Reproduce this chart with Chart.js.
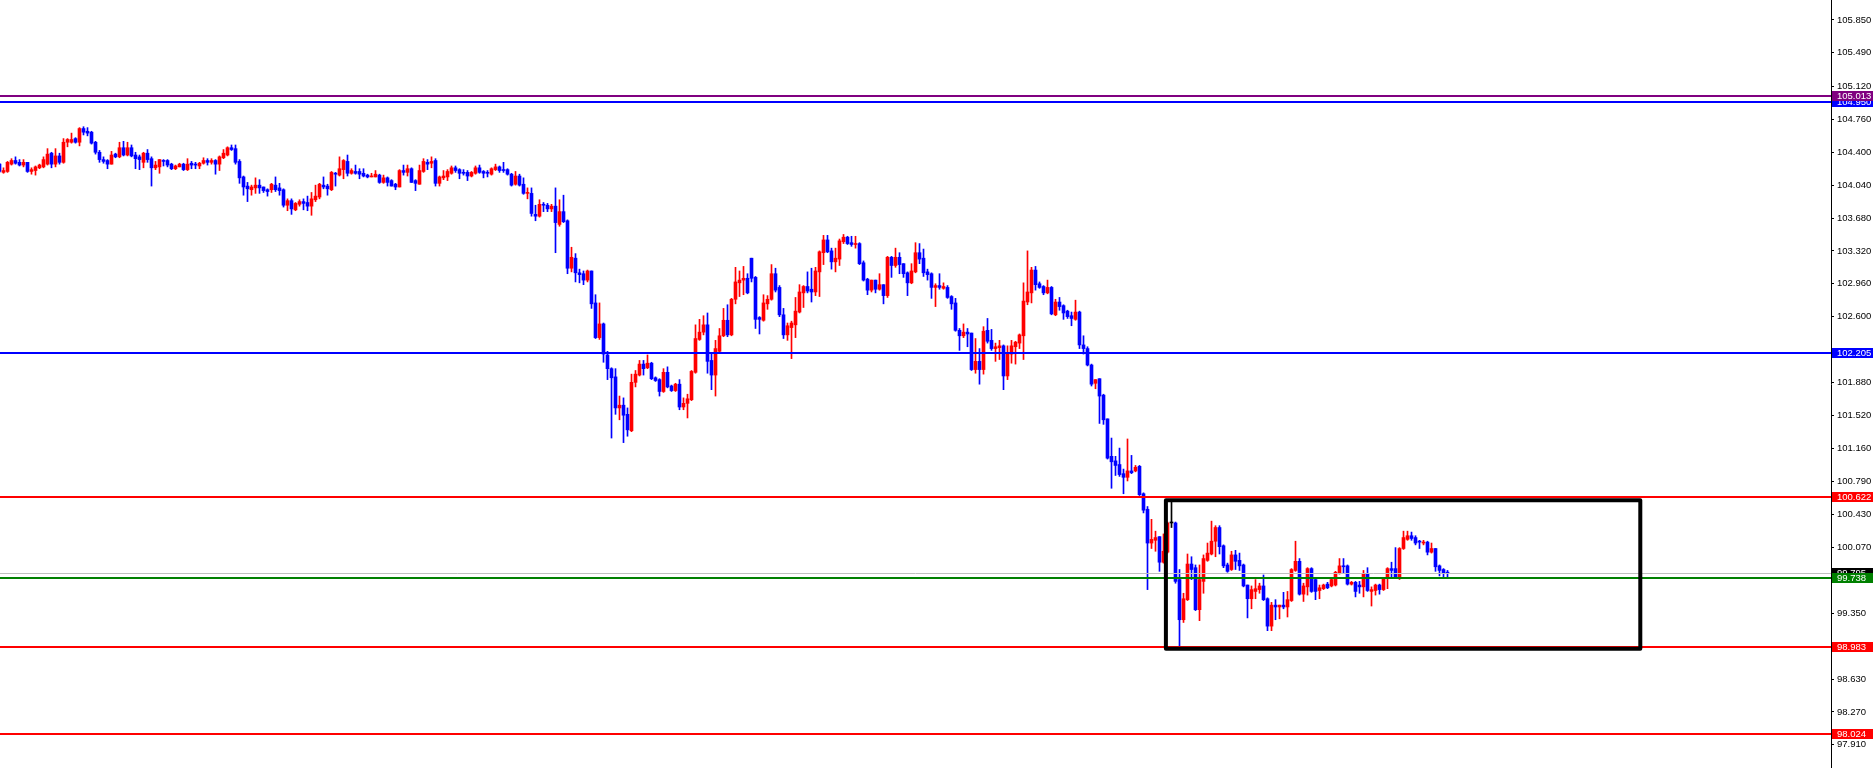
<!DOCTYPE html>
<html>
<head>
<meta charset="utf-8">
<script src="https://cdn.jsdelivr.net/npm/chart.js@4.4.1/dist/chart.umd.min.js"></script>
<style>
  html, body { margin: 0; padding: 0; background: #fff; overflow: hidden; }
  canvas { display: block; }
</style>
</head>
<body>
<canvas id="chart" width="1873" height="768"></canvas>
<script>
// OHLC of each bar, left to right
const opens = [
  104.27,104.18,104.19,104.27,104.31,104.29,104.26,104.29,104.19,104.20,
  104.23,104.24,104.27,104.39,104.27,104.36,104.29,104.51,104.51,104.55,
  104.51,104.66,104.63,104.62,104.51,104.40,104.32,104.31,104.27,104.38,
  104.35,104.45,104.37,104.45,104.37,104.35,104.29,104.39,104.33,104.23,
  104.24,104.31,104.31,104.27,104.22,104.24,104.27,104.21,104.28,104.27,
  104.25,104.28,104.31,104.29,104.31,104.27,104.34,104.37,104.45,104.44,
  104.30,104.13,104.03,103.99,104.01,104.04,104.02,103.99,103.99,104.04,
  104.01,103.99,103.82,103.87,103.77,103.83,103.86,103.85,103.81,103.88,
  103.91,104.04,104.03,103.99,104.17,104.15,104.21,104.30,104.17,104.19,
  104.19,104.17,104.15,104.13,104.13,104.15,104.07,104.12,104.09,104.05,
  104.02,104.20,104.18,104.22,104.09,104.05,104.19,104.29,104.28,104.31,
  104.06,104.12,104.13,104.17,104.23,104.21,104.18,104.18,104.14,104.17,
  104.23,104.19,104.18,104.16,104.21,104.24,104.21,104.21,104.16,104.05,
  104.14,104.05,103.95,103.95,103.72,103.70,103.83,103.82,103.78,103.81,
  103.61,103.75,103.65,103.13,103.24,103.08,103.07,103.00,103.10,102.75,
  102.37,102.52,102.18,102.03,101.94,101.60,101.63,101.53,101.35,101.88,
  101.96,102.08,102.04,102.09,101.93,101.91,101.78,101.99,101.84,101.79,
  101.86,101.61,101.65,101.69,101.99,102.35,102.43,102.51,102.12,101.96,
  102.22,102.39,102.56,102.40,102.79,102.97,103.00,103.02,103.24,103.03,
  102.59,102.56,102.74,102.79,103.07,102.92,102.62,102.40,102.48,102.51,
  102.65,102.86,102.93,102.90,102.87,103.09,103.30,103.44,103.32,103.20,
  103.23,103.42,103.47,103.41,103.39,103.40,103.19,103.01,102.89,103.00,
  102.90,102.95,102.83,103.25,103.16,103.25,103.18,103.08,102.97,103.09,
  103.30,103.24,103.09,103.07,102.92,102.94,102.91,102.92,102.82,102.75,
  102.45,102.39,102.43,102.42,102.02,102.11,102.02,102.45,102.34,102.25,
  102.26,102.28,101.95,102.19,102.27,102.31,102.39,102.76,102.86,103.11,
  102.96,102.93,102.86,102.92,102.62,102.76,102.72,102.66,102.61,102.57,
  102.65,102.29,102.25,102.07,101.87,101.92,101.74,101.48,101.07,101.02,
  100.98,100.88,100.84,100.91,100.91,100.96,100.66,100.49,100.12,100.15,
  100.19,99.91,100.02,100.34,100.34,99.72,99.28,99.50,99.89,99.85,
  99.39,99.70,99.93,100.00,100.14,100.29,100.09,99.88,99.83,99.99,
  99.93,99.88,99.66,99.51,99.59,99.61,99.65,99.51,99.21,99.44,
  99.42,99.44,99.42,99.49,99.82,99.92,99.56,99.64,99.84,99.72,
  99.60,99.62,99.67,99.65,99.66,99.79,99.87,99.87,99.67,99.69,
  99.66,99.64,99.78,99.59,99.60,99.66,99.61,99.73,99.84,99.84,
  99.73,100.06,100.16,100.20,100.18,100.14,100.12,100.13,100.02,100.06,
  99.87,99.83,99.80
];
const highs = [
  104.28,104.23,104.30,104.33,104.35,104.32,104.32,104.29,104.23,104.25,
  104.27,104.35,104.44,104.40,104.44,104.39,104.55,104.55,104.61,104.56,
  104.67,104.68,104.67,104.63,104.52,104.42,104.35,104.32,104.41,104.39,
  104.51,104.52,104.51,104.48,104.40,104.37,104.40,104.43,104.35,104.30,
  104.32,104.32,104.32,104.28,104.26,104.28,104.28,104.33,104.30,104.29,
  104.29,104.34,104.33,104.33,104.32,104.36,104.43,104.46,104.48,104.48,
  104.32,104.14,104.07,104.04,104.12,104.10,104.02,104.00,104.06,104.13,
  104.06,104.00,103.89,103.89,103.85,103.88,103.89,103.92,103.96,104.04,
  104.06,104.13,104.05,104.19,104.18,104.35,104.32,104.37,104.22,104.26,
  104.22,104.22,104.16,104.17,104.20,104.16,104.15,104.13,104.10,104.06,
  104.21,104.26,104.26,104.23,104.10,104.26,104.33,104.32,104.35,104.33,
  104.14,104.20,104.21,104.25,104.25,104.22,104.21,104.20,104.19,104.25,
  104.26,104.20,104.20,104.23,104.27,104.25,104.29,104.22,104.17,104.19,
  104.16,104.12,104.01,104.01,103.82,103.88,103.85,103.84,103.83,104.01,
  103.88,103.93,103.66,103.36,103.29,103.12,103.10,103.11,103.10,102.84,
  102.75,102.53,102.22,102.04,102.03,101.73,101.71,101.60,101.97,102.01,
  102.12,102.12,102.18,102.10,101.94,101.92,102.03,102.05,101.85,101.87,
  101.91,101.71,101.75,102.01,102.51,102.57,102.61,102.64,102.19,102.34,
  102.47,102.69,102.73,102.80,103.14,103.10,103.15,103.07,103.24,103.04,
  102.60,102.84,102.83,103.17,103.13,102.94,102.69,102.53,102.55,102.81,
  102.95,102.94,103.09,103.13,103.14,103.32,103.49,103.49,103.35,103.35,
  103.45,103.50,103.48,103.48,103.48,103.41,103.21,103.02,103.00,103.00,
  103.07,102.95,103.26,103.26,103.35,103.30,103.18,103.09,103.18,103.41,
  103.40,103.34,103.12,103.08,102.96,103.07,102.97,102.94,102.83,102.80,
  102.47,102.52,102.47,102.42,102.36,102.25,102.49,102.58,102.46,102.31,
  102.34,102.29,102.28,102.34,102.33,102.41,102.97,103.32,103.14,103.15,
  102.98,102.94,103.00,102.93,102.79,102.81,102.73,102.67,102.65,102.78,
  102.66,102.39,102.27,102.08,101.91,101.92,101.75,101.48,101.27,101.07,
  101.16,100.93,101.26,101.08,100.97,100.97,100.67,100.52,100.38,100.25,
  100.19,100.22,100.35,100.58,100.35,99.83,99.57,100.00,99.97,99.88,
  99.88,99.99,100.12,100.36,100.31,100.31,100.10,99.90,100.03,100.04,
  100.01,99.89,99.66,99.65,99.72,99.68,99.77,99.52,99.47,99.50,
  99.44,99.58,99.59,99.84,100.14,99.95,99.68,99.85,99.85,99.74,
  99.66,99.67,99.69,99.73,99.81,99.95,99.95,99.88,99.70,99.70,
  99.70,99.82,99.85,99.64,99.67,99.67,99.74,99.85,99.91,100.07,
  100.07,100.25,100.25,100.24,100.20,100.15,100.15,100.14,100.12,100.06,
  99.88,99.84,99.82
];
const lows = [
  104.18,104.17,104.18,104.26,104.27,104.25,104.24,104.18,104.16,104.15,
  104.22,104.23,104.26,104.23,104.24,104.27,104.28,104.46,104.50,104.50,
  104.47,104.59,104.58,104.49,104.38,104.29,104.28,104.22,104.27,104.34,
  104.34,104.36,104.36,104.35,104.22,104.21,104.23,104.29,104.03,104.21,
  104.17,104.25,104.24,104.21,104.21,104.24,104.20,104.20,104.22,104.22,
  104.22,104.27,104.26,104.27,104.16,104.20,104.33,104.36,104.42,104.27,
  104.06,103.93,103.86,103.93,103.95,103.95,103.96,103.92,103.96,103.97,
  103.93,103.80,103.76,103.72,103.76,103.81,103.77,103.76,103.71,103.86,
  103.89,104.00,103.93,103.98,104.03,104.14,104.11,104.14,104.16,104.16,
  104.11,104.13,104.12,104.13,104.13,104.06,104.06,104.03,104.03,103.99,
  104.02,104.15,104.14,104.07,103.98,104.05,104.18,104.21,104.23,104.03,
  104.03,104.10,104.09,104.16,104.18,104.11,104.15,104.09,104.13,104.16,
  104.17,104.12,104.13,104.15,104.20,104.18,104.18,104.15,104.03,104.04,
  104.03,103.94,103.89,103.70,103.65,103.69,103.75,103.75,103.75,103.30,
  103.59,103.63,103.07,103.09,102.98,102.97,102.95,102.98,102.69,102.36,
  102.35,102.10,101.91,101.27,101.53,101.47,101.22,101.29,101.34,101.83,
  101.95,101.96,102.03,101.91,101.89,101.73,101.77,101.82,101.78,101.78,
  101.58,101.58,101.49,101.68,101.98,102.34,102.40,101.98,101.80,101.73,
  102.21,102.38,102.38,102.39,102.74,102.82,102.84,102.85,102.98,102.47,
  102.41,102.55,102.68,102.78,102.87,102.60,102.36,102.34,102.14,102.37,
  102.64,102.70,102.86,102.76,102.83,102.82,103.17,103.30,103.12,103.09,
  103.16,103.40,103.39,103.37,103.35,103.17,102.99,102.84,102.87,102.86,
  102.89,102.74,102.81,103.03,103.14,103.07,103.03,102.83,102.96,103.08,
  103.18,103.04,103.00,102.80,102.71,102.90,102.90,102.80,102.68,102.44,
  102.23,102.37,102.27,102.01,101.98,101.86,101.97,102.31,102.23,102.11,
  102.13,101.80,101.91,102.09,102.08,102.25,102.13,102.73,102.75,102.89,
  102.91,102.84,102.85,102.62,102.61,102.67,102.57,102.58,102.50,102.56,
  102.25,102.19,102.06,101.84,101.81,101.43,101.42,101.04,100.72,100.86,
  100.85,100.66,100.80,100.88,100.90,100.64,100.45,99.61,100.06,100.03,
  99.81,99.90,100.01,100.29,99.68,98.99,99.25,99.49,99.72,99.38,
  99.27,99.57,99.92,99.99,99.97,100.00,99.85,99.80,99.82,99.83,
  99.82,99.64,99.30,99.40,99.51,99.57,99.49,99.16,99.16,99.28,
  99.29,99.40,99.31,99.48,99.81,99.55,99.48,99.55,99.58,99.50,
  99.51,99.61,99.62,99.64,99.65,99.78,99.79,99.66,99.66,99.53,
  99.57,99.53,99.59,99.43,99.55,99.56,99.60,99.62,99.73,99.73,
  99.72,100.05,100.15,100.15,100.10,100.06,100.10,99.99,100.01,99.81,
  99.76,99.75,99.75
];
const closes = [
  104.19,104.20,104.29,104.31,104.28,104.26,104.29,104.19,104.21,104.24,
  104.26,104.32,104.38,104.27,104.36,104.29,104.51,104.54,104.54,104.51,
  104.66,104.62,104.61,104.50,104.40,104.32,104.30,104.27,104.37,104.35,
  104.45,104.37,104.45,104.36,104.33,104.32,104.39,104.32,104.23,104.26,
  104.32,104.30,104.26,104.22,104.25,104.27,104.21,104.27,104.26,104.26,
  104.28,104.31,104.29,104.31,104.27,104.35,104.39,104.45,104.43,104.29,
  104.12,104.02,104.00,104.02,104.04,104.01,103.98,103.97,104.05,103.99,
  103.98,103.82,103.87,103.78,103.84,103.86,103.84,103.81,103.89,103.92,
  104.05,104.02,104.00,104.18,104.16,104.22,104.31,104.17,104.20,104.17,
  104.16,104.14,104.13,104.14,104.16,104.07,104.12,104.07,104.03,104.02,
  104.20,104.18,104.22,104.07,104.06,104.20,104.30,104.27,104.30,104.06,
  104.13,104.14,104.19,104.23,104.20,104.17,104.17,104.14,104.18,104.23,
  104.18,104.17,104.17,104.22,104.24,104.20,104.20,104.16,104.04,104.14,
  104.04,103.95,103.96,103.73,103.70,103.83,103.82,103.78,103.81,103.63,
  103.75,103.64,103.13,103.25,103.08,103.06,103.00,103.10,102.74,102.37,
  102.52,102.19,102.03,101.93,101.60,101.63,101.52,101.36,101.88,101.97,
  102.08,102.03,102.09,101.92,101.90,101.78,101.99,101.83,101.79,101.86,
  101.61,101.65,101.70,102.00,102.36,102.43,102.51,102.11,101.96,102.25,
  102.39,102.56,102.40,102.79,102.98,103.00,103.02,102.86,103.02,102.57,
  102.57,102.75,102.79,103.07,102.89,102.62,102.40,102.50,102.53,102.66,
  102.87,102.93,102.88,102.87,103.10,103.31,103.44,103.31,103.20,103.24,
  103.43,103.47,103.40,103.39,103.40,103.18,103.00,102.89,103.00,102.90,
  102.95,102.83,103.25,103.16,103.25,103.17,103.07,102.97,103.10,103.30,
  103.23,103.08,103.06,102.92,102.94,102.92,102.93,102.81,102.74,102.45,
  102.39,102.43,102.41,102.02,102.11,102.02,102.44,102.33,102.25,102.27,
  102.28,101.95,102.19,102.28,102.32,102.40,102.77,102.87,103.11,102.95,
  102.92,102.86,102.92,102.63,102.76,102.71,102.64,102.60,102.58,102.65,
  102.29,102.25,102.07,101.86,101.91,101.73,101.47,101.05,101.01,100.97,
  100.87,100.84,100.91,100.89,100.95,100.65,100.48,100.12,100.16,100.18,
  99.91,100.03,100.34,100.34,99.70,99.28,99.51,99.89,99.83,99.39,
  99.72,99.95,100.01,100.14,100.29,100.08,99.87,99.81,99.99,99.92,
  99.87,99.65,99.51,99.61,99.62,99.65,99.50,99.21,99.44,99.42,
  99.44,99.42,99.50,99.83,99.92,99.56,99.65,99.84,99.59,99.59,
  99.63,99.66,99.63,99.72,99.80,99.87,99.86,99.67,99.69,99.59,
  99.64,99.78,99.60,99.61,99.66,99.61,99.73,99.84,99.82,99.73,
  100.06,100.18,100.20,100.17,100.12,100.13,100.13,100.02,100.06,99.86,
  99.82,99.79,99.79
];

// price scale labels on the right
const priceTicks = [105.850, 105.490, 105.120, 104.760, 104.400, 104.040, 103.680, 103.320,
  102.960, 102.600, 101.880, 101.520, 101.160, 100.790, 100.430, 100.070,
  99.350, 98.630, 98.270, 97.910];

// horizontal levels (drawn in this order, later ones on top)
const levelPrices = [104.950, 105.013, 102.205, 100.622, 99.795, 99.738, 98.983, 98.024];
const levelLineColors = ['#0000ff', '#800080', '#0000ff', '#ff0000', '#c0c0c0', '#008000', '#ff0000', '#ff0000'];
const levelTagColors  = ['#0000ff', '#800080', '#0000ff', '#ff0000', '#000000', '#008000', '#ff0000', '#ff0000'];
const levelWidths = [2, 2, 2, 2, 1, 2, 2, 2];

// rectangle: bar index range and price range
const boxBars = [291.6, 410.2];
const boxPrices = [100.588, 98.963];

const priceMin = 97.656, priceMax = 106.068;
const barMin = 0.125, barMax = 457.875;

if (![highs, lows, closes].every(a => a.length === opens.length)) throw new Error('length mismatch');

const idx = opens.map((_, i) => i);
const candleColor = i => closes[i] > opens[i] ? '#ff0000' : (closes[i] < opens[i] ? '#0000ff' : '#000000');
const colors = idx.map(candleColor);
const FONT = { family: 'Liberation Sans, Arial, sans-serif', size: 9.5 };

const overlay = {
  id: 'overlay',
  afterDatasetsDraw(chart) {
    const { ctx, chartArea: a, scales: { x, y } } = chart;
    ctx.save();
    levelPrices.forEach((p, i) => {
      const w = levelWidths[i];
      let py = Math.round(y.getPixelForValue(p));
      if (w % 2) py += 0.5;
      ctx.strokeStyle = levelLineColors[i];
      ctx.lineWidth = w;
      ctx.beginPath();
      ctx.moveTo(a.left, py);
      ctx.lineTo(a.right, py);
      ctx.stroke();
    });
    const x0 = x.getPixelForValue(boxBars[0]), x1 = x.getPixelForValue(boxBars[1]);
    const y0 = y.getPixelForValue(boxPrices[0]), y1 = y.getPixelForValue(boxPrices[1]);
    ctx.strokeStyle = '#000';
    ctx.lineWidth = 4;
    ctx.lineJoin = 'round';
    ctx.strokeRect(x0, y0, x1 - x0, y1 - y0);
    ctx.restore();
  },
  afterDraw(chart) {
    const { ctx, chartArea: a, scales: { y } } = chart;
    ctx.save();
    ctx.font = FONT.size + 'px ' + FONT.family;
    ctx.textBaseline = 'middle';
    levelPrices.forEach((p, i) => {
      const py = Math.round(y.getPixelForValue(p));
      ctx.fillStyle = levelTagColors[i];
      ctx.fillRect(a.right + 1, py - 5, chart.width - a.right - 1, 10);
      ctx.fillStyle = '#fff';
      ctx.fillText(p.toFixed(3), a.right + 6, py + 0.5);
    });
    ctx.restore();
  }
};

new Chart(document.getElementById('chart'), {
  type: 'bar',
  data: {
    datasets: [
      {
        data: idx.map(i => ({ x: i, y: [opens[i], closes[i]] })),
        backgroundColor: colors,
        barThickness: 3,
        minBarLength: 1,
        grouped: false,
        borderWidth: 0,
        order: 1
      },
      {
        data: idx.map(i => ({ x: i, y: [lows[i], highs[i]] })),
        backgroundColor: colors,
        barThickness: 1,
        grouped: false,
        borderWidth: 0,
        order: 2
      }
    ]
  },
  options: {
    responsive: false,
    animation: false,
    events: [],
    layout: { padding: 0 },
    plugins: { legend: { display: false }, tooltip: { enabled: false } },
    scales: {
      x: { type: 'linear', display: false, min: barMin, max: barMax, offset: false },
      y: {
        type: 'linear',
        position: 'right',
        min: priceMin,
        max: priceMax,
        afterBuildTicks: s => { s.ticks = priceTicks.map(v => ({ value: v })); },
        afterFit: s => { s.width = 42; s.paddingTop = 0; s.paddingBottom = 0; },
        grid: { drawOnChartArea: false, drawTicks: true, tickLength: 3, color: '#000' },
        border: { display: true, color: '#000', width: 1 },
        ticks: {
          autoSkip: false,
          padding: 3,
          color: '#000',
          font: FONT,
          callback: v => Number(v).toFixed(3)
        }
      }
    }
  },
  plugins: [overlay]
});
</script>
</body>
</html>
